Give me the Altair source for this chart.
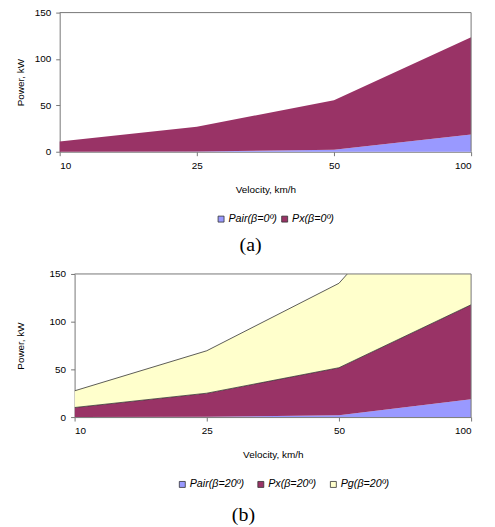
import altair as alt
import pandas as pd

velocity = ["10", "25", "50", "100"]

names_a = ["Pair(β=0º)", "Px(β=0º)"]
pair_a = [0.1, 0.3, 2.0, 18.5]
px_a = [10.9, 26.7, 53.5, 105.0]

names_b = ["Pair(β=20º)", "Px(β=20º)", "Pg(β=20º)"]
pair_b = [0.1, 0.3, 2.0, 18.7]
px_b = [9.9, 24.7, 49.7, 99.0]
pg_b = [17.5, 44.5, 88.5, 178.0]

colors_a = ["#9999FF", "#993366"]
colors_b = ["#9999FF", "#993366", "#FFFFCC"]

label_expr = "[" + ",".join("'%s'" % v for v in velocity) + "][datum.value]"
W = 399


def frame(names, series):
    rows = []
    for k, (n, vals) in enumerate(zip(names, series)):
        for i, (v, p) in enumerate(zip(velocity, vals)):
            rows.append({"v": v, "i": i, "series": n, "k": k, "power": p})
    return pd.DataFrame(rows)


def panel(df, names, colors, label, height, shift, ypad, lx, ly, lpad, toff, outline):
    base = alt.Chart(df).transform_stack(
        stack="power", groupby=["i"], as_=["y0", "y1"],
        sort=[alt.SortField("k", order="ascending")]
    )
    x = alt.X("i:Q",
              scale=alt.Scale(domain=[0, len(velocity) - 1], nice=False, zero=False,
                              range=[-shift, W]),
              axis=alt.Axis(title="Velocity, km/h", values=list(range(len(velocity))),
                            labelExpr=label_expr, labelAngle=0, labelPadding=5,
                            titlePadding=14))
    y = alt.Y("y1:Q", stack=None, scale=alt.Scale(domain=[0, 150], nice=False),
              axis=alt.Axis(title="Power, kW", values=[0, 50, 100, 150],
                            labelPadding=5, titlePadding=ypad, offset=shift))
    area = base.mark_area(clip=(shift == 0), opacity=1, interpolate="linear").encode(
        x=x, y=y, y2="y0:Q",
        color=alt.Color("series:N",
                        scale=alt.Scale(domain=names, range=colors),
                        legend=alt.Legend(orient="none", legendX=lx, legendY=ly,
                                          direction="horizontal",
                                          title=None, symbolType="square",
                                          symbolSize=36, symbolStrokeColor="#333",
                                          symbolStrokeWidth=0.8, labelOffset=2,
                                          labelFontStyle="italic", labelFontSize=10.8,
                                          labelFont="Liberation Sans",
                                          columnPadding=lpad)),
    )
    layers = [area]
    if outline:
        line = base.transform_filter("datum.k >= 1").mark_line(
            clip=True, color="#333", strokeWidth=0.8
        ).encode(x=x, y=y, detail="series:N")
        layers.append(line)
    frame_df = pd.DataFrame({"f": [0]})
    top = alt.Chart(frame_df).mark_rule(color="#777", strokeWidth=1).encode(
        x=alt.value(-shift), x2=alt.value(W), y=alt.value(0))
    right = alt.Chart(frame_df).mark_rule(color="#777", strokeWidth=1).encode(
        x=alt.value(W), y=alt.value(0), y2=alt.value(height))
    layers += [top, right]
    return alt.layer(*layers).resolve_scale(color="independent").properties(
        width=W, height=height,
        title=alt.TitleParams(label, orient="bottom", anchor="middle", frame="bounds",
                              font="Liberation Serif", fontSize=20,
                              fontWeight="normal", offset=toff, color="black"),
    )


pa = panel(frame(names_a, [pair_a, px_a]), names_a, colors_a, "(a)",
           140, 15, 9, 142, 202, 2, 11, False)
pb = panel(frame(names_b, [pair_b, px_b, pg_b]), names_b, colors_b, "(b)",
           144, 0, 24, 103, 206, 11, 16, True)

chart = alt.vconcat(pa, pb, spacing=12).resolve_scale(
    color="independent"
).configure_view(
    stroke="transparent"
).configure_axis(
    labelFont="Liberation Sans", labelFontSize=10, labelColor="black",
    titleFont="Liberation Sans", titleFontSize=10, titleFontWeight="normal",
    titleColor="black", domainColor="#777", tickColor="#777", tickSize=4, grid=False
).properties(padding={"left": 6, "top": -3, "right": 0, "bottom": 0})

chart.save("out.html", embed_options={"renderer": "svg", "actions": False})
